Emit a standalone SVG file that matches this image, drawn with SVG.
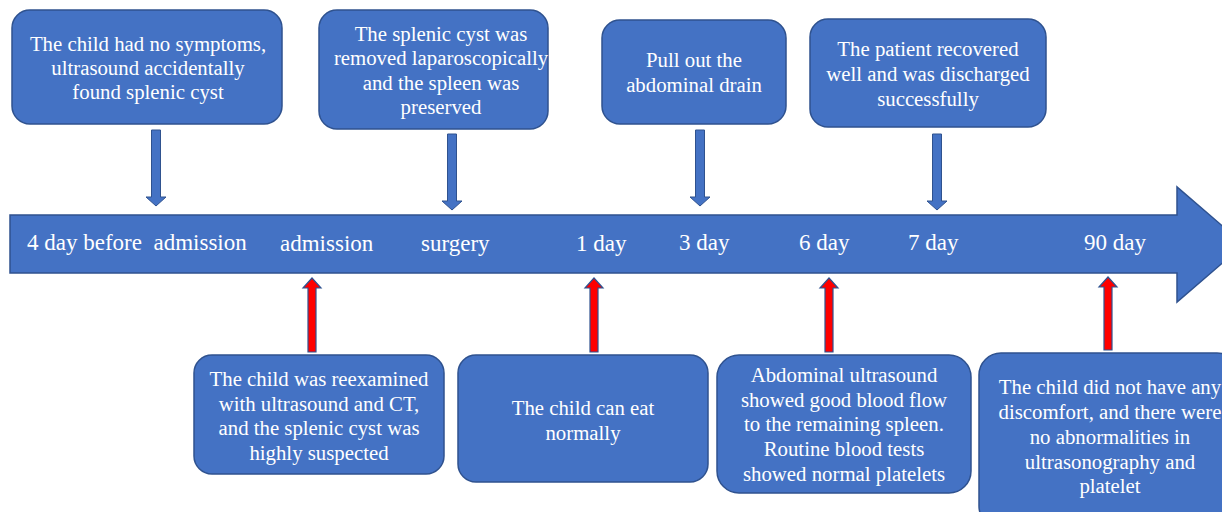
<svg xmlns="http://www.w3.org/2000/svg" width="1222" height="512" viewBox="0 0 1222 512">
<style>
.box{fill:#4472C4;stroke:#2F528F;stroke-width:1.5}
.t{font-family:"Liberation Serif","Times New Roman",serif;font-size:20.8px;fill:#fff;text-anchor:middle}
.lbl{font-family:"Liberation Serif","Times New Roman",serif;font-size:23px;fill:#fff;white-space:pre}
.down{fill:#4472C4;stroke:#2F528F;stroke-width:1}
.up{fill:#FF0000;stroke:#2F528F;stroke-width:1.2}
</style>
<rect width="1222" height="512" fill="#fff"/>
<g id="timeline">
<path class="box" d="M10 215 H1177 V187 L1244 244.5 L1177 302 V273 H10 Z"/>
<text class="lbl" x="27" y="250" xml:space="preserve">4 day before  admission</text>
<text class="lbl" x="280" y="251">admission</text>
<text class="lbl" x="421" y="251">surgery</text>
<text class="lbl" x="576" y="251">1 day</text>
<text class="lbl" x="679" y="250">3 day</text>
<text class="lbl" x="799" y="250">6 day</text>
<text class="lbl" x="908" y="250">7 day</text>
<text class="lbl" x="1084" y="250">90 day</text>
</g>
<g id="connectors">
<path class="down" d="M151.5 130 H160.5 V197 H166 L156 206 L146 197 H151.5 Z"/>
<path class="down" d="M447.5 134 H456.5 V201 H462 L452 210 L442 201 H447.5 Z"/>
<path class="down" d="M695.5 130 H704.5 V197 H710 L700 206 L690 197 H695.5 Z"/>
<path class="down" d="M932.5 134 H941.5 V201 H947 L937 210 L927 201 H932.5 Z"/>
<path class="up" d="M308 352 H316 V288 H321 L312 278 L303 288 H308 Z"/>
<path class="up" d="M590 352 H598 V288 H603 L594 278 L585 288 H590 Z"/>
<path class="up" d="M825 352 H833 V288 H838 L829 278 L820 288 H825 Z"/>
<path class="up" d="M1104 350 H1112 V287 H1117 L1108 277 L1099 287 H1104 Z"/>
</g>
<g id="n1">
<rect class="box" x="12" y="10" width="270" height="114" rx="18"/>
<text class="t" x="148" y="51">The child had no symptoms,</text>
<text class="t" x="148" y="75">ultrasound accidentally</text>
<text class="t" x="148" y="99">found splenic cyst</text>
</g>
<g id="n2">
<rect class="box" x="319" y="10" width="229" height="119" rx="18"/>
<text class="t" x="441" y="41">The splenic cyst was</text>
<text class="t" x="441" y="65">removed laparoscopically</text>
<text class="t" x="441" y="90">and the spleen was</text>
<text class="t" x="441" y="114">preserved</text>
</g>
<g id="n3">
<rect class="box" x="602" y="20" width="184" height="104" rx="18"/>
<text class="t" x="694" y="67">Pull out the</text>
<text class="t" x="694" y="92">abdominal drain</text>
</g>
<g id="n4">
<rect class="box" x="810" y="19" width="236" height="108" rx="18"/>
<text class="t" x="928" y="56">The patient recovered</text>
<text class="t" x="928" y="81">well and was discharged</text>
<text class="t" x="928" y="106">successfully</text>
</g>
<g id="n5">
<rect class="box" x="194" y="355" width="250" height="119" rx="18"/>
<text class="t" x="319" y="386">The child was reexamined</text>
<text class="t" x="319" y="411">with ultrasound and CT,</text>
<text class="t" x="319" y="435">and the splenic cyst was</text>
<text class="t" x="319" y="460">highly suspected</text>
</g>
<g id="n6">
<rect class="box" x="458" y="355" width="250" height="127" rx="18"/>
<text class="t" x="583" y="415">The child can eat</text>
<text class="t" x="583" y="440">normally</text>
</g>
<g id="n7">
<rect class="box" x="717" y="355" width="254" height="138" rx="22"/>
<text class="t" x="844" y="382">Abdominal ultrasound</text>
<text class="t" x="844" y="407">showed good blood flow</text>
<text class="t" x="844" y="431">to the remaining spleen.</text>
<text class="t" x="844" y="456">Routine blood tests</text>
<text class="t" x="844" y="481">showed normal platelets</text>
</g>
<g id="n8">
<rect class="box" x="979" y="353" width="260" height="175" rx="22"/>
<text class="t" x="1110" y="394">The child did not have any</text>
<text class="t" x="1110" y="419">discomfort, and there were</text>
<text class="t" x="1110" y="444">no abnormalities in</text>
<text class="t" x="1110" y="469">ultrasonography and</text>
<text class="t" x="1110" y="493">platelet</text>
</g>
</svg>
